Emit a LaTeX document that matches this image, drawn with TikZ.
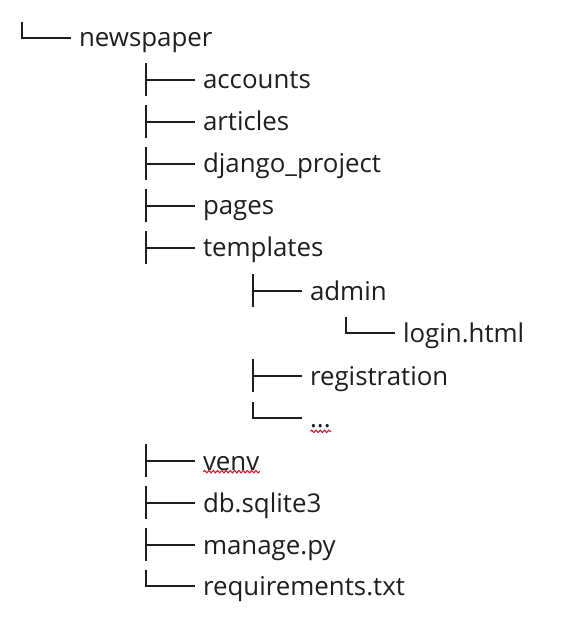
\documentclass[tikz,border=0pt]{standalone}
\usepackage{fontspec}
\setmainfont{Open Sans}
\usetikzlibrary{decorations.pathmorphing}
\definecolor{ink}{HTML}{1E1E1E}
\definecolor{spellred}{HTML}{E81123}

\tikzset{
  item/.style={anchor=west, inner xsep=5.8pt, inner ysep=0pt, text=ink,
    font=\fontsize{19.4}{23}\selectfont, text height=18.5pt, text depth=5pt},
  branch/.style={draw=ink, line width=1.6pt},
  spell/.style={draw=spellred, line width=0.8pt,
    decorate, decoration={snake, amplitude=0.9pt, segment length=3.2pt}}
}

\begin{document}
\begin{tikzpicture}[x=0.75pt, y=-0.75pt]
				\useasboundingbox (0,0) rectangle (580,623);

				% root
				\node[item] (newspaper) at (71,38) {newspaper};

				% first level
				\node[item] (accounts) at (195,80) {accounts};
				\node[item] (articles) at (195,122) {articles};
				\node[item] (djangoproject) at (195,164) {django\_project};
				\node[item] (pages) at (195,206) {pages};
				\node[item] (templates) at (195,248) {templates};
				\node[item] (venv) at (195,461) {venv};
				\node[item] (db) at (195,503) {db.sqlite3};
				\node[item] (manage) at (195,545) {manage.py};
				\node[item] (requirements) at (195,586) {requirements.txt};

				% inside templates
				\node[item] (admin) at (302,291) {admin};
				\node[item] (login) at (395,333) {login.html};
				\node[item] (registration) at (302,376) {registration};
				\node[item] (more) at (302,418) {...};

				% branches: tee = |- with the bar, elbow = last child
				\draw[branch] (newspaper.west) -- ++(-49,0) -- ++(0,-16);

				\draw[branch] (accounts.west) -- ++(-49,0) ++(0,-17) -- ++(0,33);
				\draw[branch] (articles.west) -- ++(-49,0) ++(0,-17) -- ++(0,33);
				\draw[branch] (djangoproject.west) -- ++(-49,0) ++(0,-17) -- ++(0,33);
				\draw[branch] (pages.west) -- ++(-49,0) ++(0,-17) -- ++(0,33);
				\draw[branch] (templates.west) -- ++(-49,0) ++(0,-17) -- ++(0,33);
				\draw[branch] (venv.west) -- ++(-49,0) ++(0,-17) -- ++(0,33);
				\draw[branch] (db.west) -- ++(-49,0) ++(0,-17) -- ++(0,33);
				\draw[branch] (manage.west) -- ++(-49,0) ++(0,-17) -- ++(0,33);
				\draw[branch] (requirements.west) -- ++(-49,0) -- ++(0,-16);

				\draw[branch] (admin.west) -- ++(-49,0) ++(0,-17) -- ++(0,33);
				\draw[branch] (login.west) -- ++(-49,0) -- ++(0,-16);
				\draw[branch] (registration.west) -- ++(-49,0) ++(0,-17) -- ++(0,33);
				\draw[branch] (more.west) -- ++(-49,0) -- ++(0,-16);

				% spell check marks
				\draw[spell] ([xshift=6.3pt, yshift=-8pt]venv.west) -- ([xshift=-5.5pt, yshift=-8pt]venv.east);
				\draw[spell] ([xshift=6.3pt, yshift=-10pt]more.west) -- ([xshift=-5.5pt, yshift=-10pt]more.east);
			\end{tikzpicture}
\end{document}
